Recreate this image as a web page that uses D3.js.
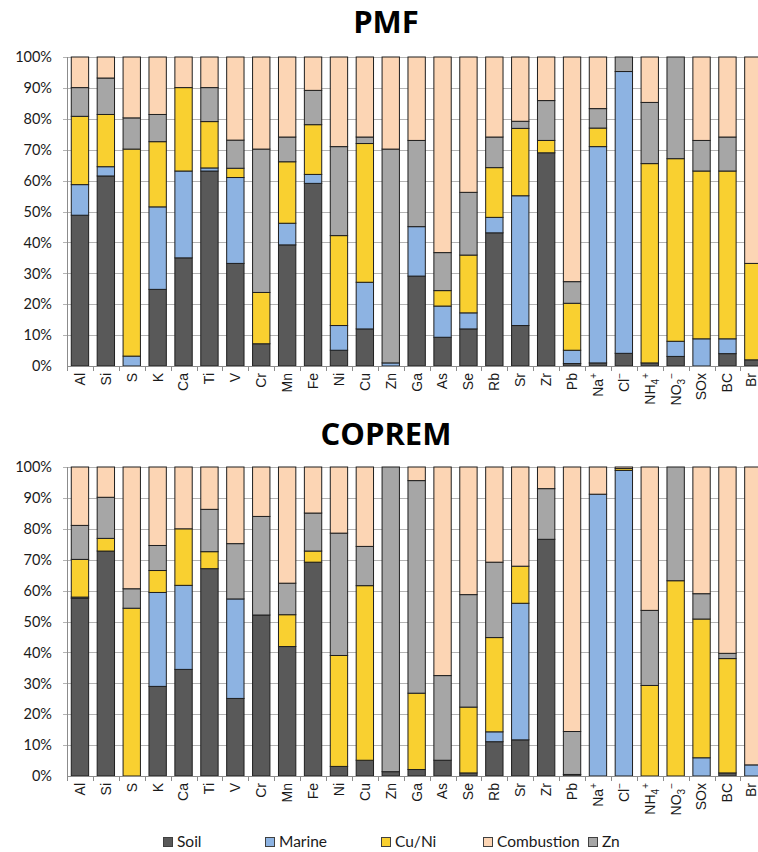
<!DOCTYPE html>
<html>
<head>
<meta charset="utf-8">
<script src="https://cdn.jsdelivr.net/npm/d3@7"></script>
<style>
  html, body { margin: 0; padding: 0; background: #ffffff; }
  svg { display: block; }
</style>
</head>
<body>
<svg id="chart" width="758" height="852"></svg>
<script>
// Elements / species on the x axis
const categories = ["Al","Si","S","K","Ca","Ti","V","Cr","Mn","Fe","Ni","Cu","Zn","Ga","As","Se","Rb","Sr","Zr","Pb","Na+","Cl-","NH4+","NO3-","SOx","BC","Br"];

// Source names, stacked bottom to top
const sources = ["Soil","Marine","Cu/Ni","Zn","Combustion"];
// Legend order
const legendOrder = ["Soil","Marine","Cu/Ni","Combustion","Zn"];

const yTicks = [0, 10, 20, 30, 40, 50, 60, 70, 80, 90, 100];

// PMF source contributions (% of species)
const pmfSoil       = [48.8, 61.5, 0,    24.8, 35.0, 63.1, 33.2, 7.2,  39.2, 59.1, 5.1,  12.0, 0,    29.1, 9.3,  12.0, 43.1, 13.1, 69.0, 0.8,  1.0,  4.1,  1.0,  3.1,  0,    4.0,  2.0];
const pmfMarine     = [9.9,  3.0,  3.2,  26.7, 28.1, 1.0,  27.8, 0,    7.0,  2.9,  8.0,  15.1, 1.0,  16.0, 10.1, 5.2,  5.0,  42.0, 0,    4.3,  70.0, 91.2, 0,    4.9,  8.8,  4.8,  0];
const pmfCuNi       = [22.1, 16.9, 67.0, 21.1, 27.0, 15.0, 3.0,  16.6, 19.9, 16.1, 29.1, 44.9, 0,    0,    5.0,  18.7, 16.1, 21.8, 4.0,  15.2, 6.0,  0,    64.5, 59.1, 54.3, 54.3, 31.2];
const pmfZn         = [9.3,  11.8, 10.1, 8.8,  0,    11.0, 9.1,  46.4, 8.0,  11.1, 28.8, 2.1,  69.2, 27.9, 12.3, 20.3, 9.9,  2.3,  12.9, 7.0,  6.3,  4.7,  19.8, 32.9, 9.9,  11.0, 0];
const pmfCombustion = [9.9,  6.8,  19.7, 18.6, 9.9,  9.9,  26.9, 29.8, 25.9, 10.8, 29.0, 25.9, 29.8, 27.0, 63.3, 43.8, 25.9, 20.8, 14.1, 72.7, 16.7, 0,    14.7, 0,    27.0, 25.9, 66.8];

// COPREM source contributions (% of species)
const copSoil       = [57.5, 72.8, 0,    29.0, 34.5, 67.1, 25.1, 52.1, 41.9, 69.2, 3.1,  5.1,  1.4,  2.1,  5.1,  1.0,  11.1, 11.7, 76.6, 0.5,  0,    0,    0,    0,    0,    1.0,  0];
const copMarine     = [0.4,  0,    0,    30.4, 27.2, 0,    32.2, 0,    0,    0,    0,    0,    0,    0,    0,    0,    3.2,  44.2, 0,    0,    91.2, 98.9, 0,    0,    5.9,  0,    3.6];
const copCuNi       = [12.2, 4.1,  54.3, 7.1,  18.3, 5.5,  0,    0,    10.3, 3.6,  35.9, 56.5, 0,    24.7, 0,    21.3, 30.5, 12.0, 0,    0,    0,    0.6,  29.3, 63.2, 44.9, 37.0, 0];
const copZn         = [11.0, 13.3, 6.3,  8.1,  0,    13.7, 17.9, 31.9, 10.2, 12.3, 39.6, 12.7, 98.6, 68.8, 27.4, 36.4, 24.4, 0,    16.4, 13.9, 0,    0,    24.3, 36.8, 8.2,  1.7,  0];
const copCombustion = [18.9, 9.8,  39.4, 25.4, 20.0, 13.7, 24.8, 16.0, 37.6, 14.9, 21.4, 25.7, 0,    4.4,  67.5, 41.3, 30.8, 32.1, 7.0,  85.6, 8.8,  0.5,  46.4, 0,    41.0, 60.3, 96.4];

const colors = {
  "Soil": "#595959",
  "Marine": "#8db3e2",
  "Cu/Ni": "#f9d030",
  "Zn": "#a6a6a6",
  "Combustion": "#fcd5b4"
};

function buildRows(soil, marine, cuni, zn, comb) {
  return categories.map((c, i) => ({
    cat: c,
    "Soil": soil[i], "Marine": marine[i], "Cu/Ni": cuni[i], "Zn": zn[i], "Combustion": comb[i]
  }));
}

const W = 758;
const svg = d3.select("#chart");
const axisLeft = 67;
const step = 25.9;
const x = d3.scaleBand()
  .domain(categories)
  .range([axisLeft, axisLeft + step * categories.length])
  .paddingInner(0.33)
  .paddingOuter(0.165);

// Writes a species label, turning digits into subscripts and +/- into superscripts
function writeLabel(textSel, label) {
  const m = label.match(/^([A-Za-z]+?)(\d?)([+-]?)$/);
  const base = m ? m[1] : label;
  const sub = m ? m[2] : "";
  const sup = m ? m[3] : "";
  textSel.append("tspan").text(base);
  if (sub) textSel.append("tspan").attr("dy", 4).attr("font-size", 10).text(sub);
  if (sup) textSel.append("tspan").attr("dy", sub ? -10 : -6).attr("font-size", 10).text(sup === "-" ? "\u2212" : "+");
}

function drawChart(title, titleY, top, bottom, rows) {
  const g = svg.append("g");
  const y = d3.scaleLinear().domain([0, 100]).range([bottom, top]);

  g.append("text")
    .attr("x", 386).attr("y", titleY)
    .attr("text-anchor", "middle")
    .attr("font-family", "'Open Sans', sans-serif")
    .attr("font-weight", 700)
    .attr("font-size", 31)
    .attr("fill", "#000")
    .text(title);

  // horizontal gridlines
  g.append("g").selectAll("line").data(yTicks.filter(t => t > 0)).join("line")
    .attr("x1", axisLeft - 4).attr("x2", W)
    .attr("y1", d => Math.round(y(d)) + 0.5).attr("y2", d => Math.round(y(d)) + 0.5)
    .attr("stroke", "#b3b3b3").attr("stroke-width", 1);

  // y tick labels
  g.append("g").selectAll("text").data(yTicks).join("text")
    .attr("x", 52).attr("y", d => y(d))
    .attr("dy", "0.36em")
    .attr("text-anchor", "end")
    .attr("font-family", "Lato, 'Open Sans', sans-serif")
    .attr("font-size", 14.5)
    .attr("fill", "#1a1a1a")
    .text(d => d + "%");

  // stacked bars
  const stack = d3.stack().keys(sources);
  const layers = stack(rows);
  g.append("g").selectAll("g").data(layers).join("g")
    .attr("fill", d => colors[d.key])
    .selectAll("rect")
    .data(d => d.filter(s => s[1] - s[0] > 0))
    .join("rect")
    .attr("x", d => x(d.data.cat))
    .attr("width", x.bandwidth())
    .attr("y", d => y(d[1]))
    .attr("height", d => y(d[0]) - y(d[1]))
    .attr("stroke", "#1f1f1f")
    .attr("stroke-width", 1);

  // y axis line
  g.append("line")
    .attr("x1", axisLeft + 0.5).attr("x2", axisLeft + 0.5)
    .attr("y1", top).attr("y2", bottom)
    .attr("stroke", "#8c8c8c").attr("stroke-width", 1);

  // x axis line with boundary tick marks
  g.append("line")
    .attr("x1", axisLeft).attr("x2", W)
    .attr("y1", Math.round(bottom) + 0.5).attr("y2", Math.round(bottom) + 0.5)
    .attr("stroke", "#8c8c8c").attr("stroke-width", 1);
  g.append("g").selectAll("line").data(d3.range(categories.length + 1)).join("line")
    .attr("x1", i => Math.round(axisLeft + i * step) + 0.5)
    .attr("x2", i => Math.round(axisLeft + i * step) + 0.5)
    .attr("y1", bottom).attr("y2", bottom + 5)
    .attr("stroke", "#8c8c8c").attr("stroke-width", 1);

  // rotated category labels (kept inside the right edge)
  g.append("g").selectAll("text").data(categories).join("text")
    .attr("transform", d => `translate(${Math.min(x(d) + x.bandwidth() / 2, W - 7)},${bottom + 7}) rotate(-90)`)
    .attr("dy", "0.35em")
    .attr("text-anchor", "end")
    .attr("font-family", "'Liberation Sans', Arial, sans-serif")
    .attr("font-size", 14)
    .attr("fill", "#1a1a1a")
    .each(function (d) { writeLabel(d3.select(this), d); });
}

drawChart("PMF", 33, 57, 366, buildRows(pmfSoil, pmfMarine, pmfCuNi, pmfZn, pmfCombustion));
drawChart("COPREM", 445, 467, 776, buildRows(copSoil, copMarine, copCuNi, copZn, copCombustion));

// legend
const legendX = { "Soil": 163, "Marine": 265, "Cu/Ni": 381, "Combustion": 483, "Zn": 588 };
const lg = svg.append("g");
legendOrder.forEach(k => {
  lg.append("rect")
    .attr("x", legendX[k] + 0.5).attr("y", 837.5)
    .attr("width", 9).attr("height", 9)
    .attr("fill", colors[k]).attr("stroke", "#404040").attr("stroke-width", 1);
  lg.append("text")
    .attr("x", legendX[k] + 14).attr("y", 847)
    .attr("font-family", "Lato, 'Open Sans', sans-serif")
    .attr("font-size", 15.5)
    .attr("fill", "#1a1a1a")
    .text(k);
});
</script>
</body>
</html>
